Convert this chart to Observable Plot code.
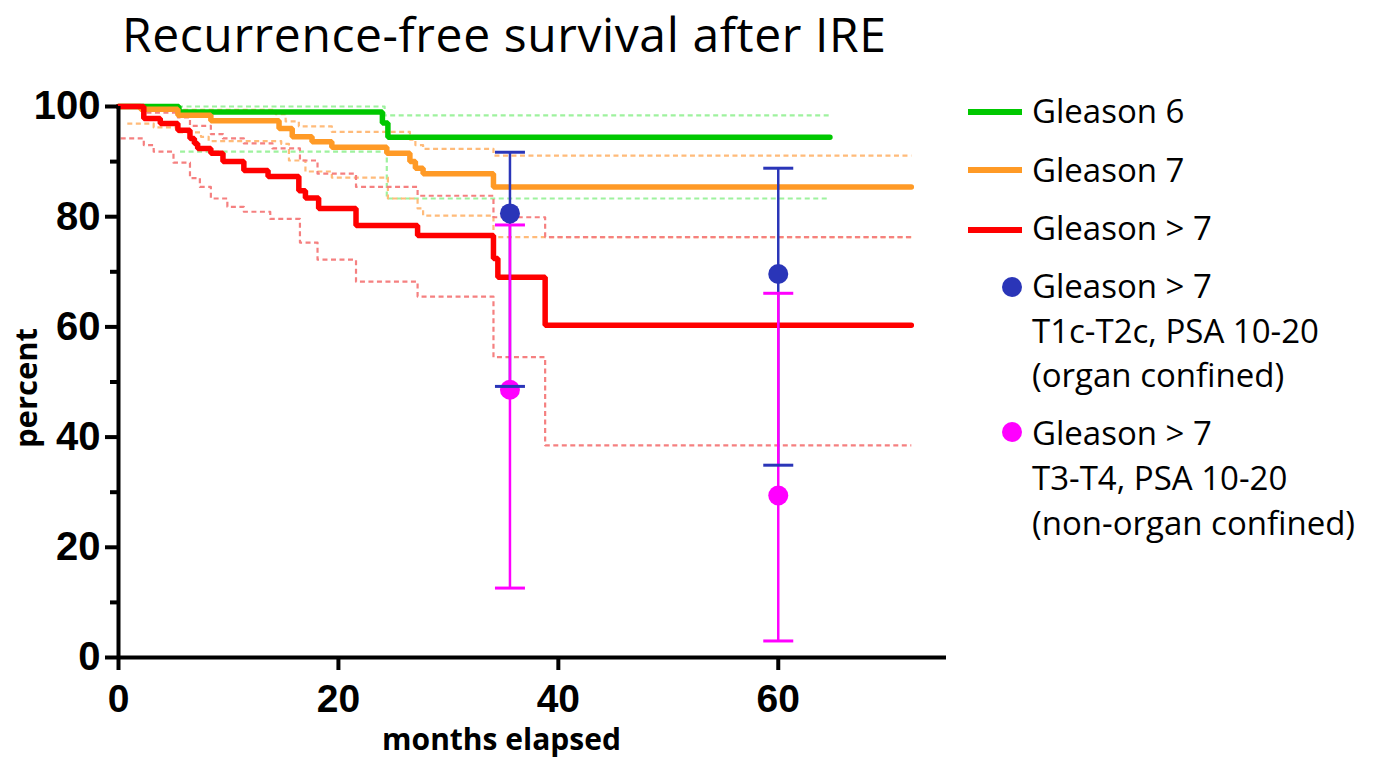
<!DOCTYPE html>
<html>
<head>
<meta charset="utf-8">
<script src="https://cdn.jsdelivr.net/npm/d3@7"></script>
<script src="https://cdn.jsdelivr.net/npm/@observablehq/plot@0.6"></script>
<style>
  html, body { margin: 0; padding: 0; background: #fff; }
  body { width: 1374px; height: 761px; position: relative; overflow: hidden; }
  #title { position: absolute; left: 122px; top: 1px; font-family: "Open Sans", sans-serif; font-size: 48px; line-height: 66px; letter-spacing: 0.6px; color: #000; white-space: nowrap; }
  #chart { position: absolute; left: 0; top: 80px; }
  .lg { position: absolute; font-family: "Open Sans", sans-serif; font-size: 33px; line-height: 33px; color: #000; white-space: nowrap; }
  .sw { position: absolute; height: 6px; width: 54px; left: 968px; }
  .dt { position: absolute; width: 20px; height: 20px; border-radius: 50%; left: 1002px; }
</style>
</head>
<body>
<div id="title">Recurrence-free survival after IRE</div>
<div id="chart"></div>
<div id="legend"></div>
<script>
// ---------- data (months, percent) ----------
const gleason6 = [[0,100],[5.5,99.0],[24.0,97.0],[24.5,94.4],[64.7,94.4]];
const gleason6Upper = [[0,100],[24.2,98.4],[64.7,98.4]];
const gleason6Lower = [[5.6,91.8],[24.4,83.3],[64.7,83.3]];

const gleason7 = [[0,100],[2.0,99.5],[5.4,98.4],[8.4,97.4],[14.6,96.0],[15.8,94.5],[17.6,93.6],[19.4,92.6],[24.4,91.5],[26.5,90.0],[27.0,88.8],[27.7,87.8],[34.1,85.4],[72.1,85.4]];
const gleason7Upper = [[0,100],[4.0,99.4],[14.3,98.6],[15.2,97.3],[16.4,96.4],[19.4,95.4],[26.5,94.0],[27.0,93.0],[27.7,92.3],[34.1,91.1],[72.1,91.1]];
const gleason7Lower = [[0.8,96.9],[3.2,96.2],[5.5,95.3],[7.5,94.5],[8.2,93.7],[14.8,93.2],[15.5,90.2],[17.0,88.2],[19.4,87.1],[24.5,83.3],[27.2,81.5],[27.7,80.2],[34.1,76.3],[72.1,76.3]];

const gleason8 = [[0,100],[2.3,97.8],[3.8,96.9],[5.4,95.7],[6.5,94.2],[6.9,93.3],[7.2,92.4],[8.4,91.5],[9.5,90.0],[11.4,88.4],[13.6,87.3],[16.4,84.7],[17.0,83.4],[18.2,81.5],[21.6,78.4],[27.2,76.6],[34.1,72.4],[34.5,69.0],[38.8,60.3],[72.1,60.3]];
const gleason8Upper = [[0,100],[2.3,98.9],[5.4,98.0],[6.5,96.5],[8.4,95.0],[9.5,94.2],[11.4,93.3],[14.0,92.4],[16.5,90.2],[18.1,87.8],[21.6,85.4],[27.2,83.8],[34.1,79.9],[38.8,76.3],[72.1,76.3]];
const gleason8Lower = [[0.2,94.2],[2.3,93.0],[3.2,91.8],[5.0,89.8],[6.5,87.0],[7.4,85.4],[8.4,83.3],[9.9,81.8],[11.4,80.9],[13.8,79.6],[16.5,75.3],[18.1,72.2],[21.6,68.2],[27.2,65.5],[34.1,54.5],[38.8,38.5],[72.1,38.5]];

const pointMonths = [35.6, 60];
const organConfined = [80.6, 69.6];
const organConfinedLow = [49.2, 34.9];
const organConfinedHigh = [91.7, 88.8];
const nonOrganConfined = [48.6, 29.4];
const nonOrganConfinedLow = [12.6, 3.0];
const nonOrganConfinedHigh = [78.5, 66.1];

const xMajorTicks = [0, 20, 40, 60];
const yMajorTicks = [0, 20, 40, 60, 80, 100];
const yMinorTicks = [10, 30, 50, 70, 90];

const legendLabels = [
  ["Gleason 6"],
  ["Gleason 7"],
  ["Gleason > 7"],
  ["Gleason > 7", "T1c-T2c, PSA 10-20", "(organ confined)"],
  ["Gleason > 7", "T3-T4, PSA 10-20", "(non-organ confined)"]
];

// ---------- colours ----------
const C = {
  g6: "#00c800", g6ci: "#9ef29e",
  g7: "#ff9a26", g7ci: "#ffbb7a",
  g8: "#ff0000", g8ci: "#f58080",
  blue: "#2a35b8", magenta: "#ff00ff"
};

const pts = (arr) => arr.map(([m, p]) => ({m, p}));
const bars = (vals, lo, hi) => pointMonths.map((m, i) => ({m, v: vals[i], lo: lo[i], hi: hi[i]}));
const blue = bars(organConfined, organConfinedLow, organConfinedHigh);
const mag = bars(nonOrganConfined, nonOrganConfinedLow, nonOrganConfinedHigh);

const capSymbol = {
  draw(context, size) {
    const w = Math.sqrt(size / Math.PI);
    context.moveTo(-w, 0);
    context.lineTo(w, 0);
  }
};

const ciLine = (data, color) => Plot.line(pts(data), {x: "m", y: "p", curve: "step-after", stroke: color, strokeWidth: 2.2, strokeDasharray: "5,3.5", strokeLinecap: "butt"});
const mainLine = (data, color) => Plot.line(pts(data), {x: "m", y: "p", curve: "step-after", stroke: color, strokeWidth: 5.5, strokeLinecap: "round", strokeLinejoin: "miter"});

const chart = Plot.plot({
  width: 960,
  height: 681,
  marginLeft: 118,
  marginRight: 14,
  marginTop: 26,
  marginBottom: 104,
  x: {domain: [0, 75.3]},
  y: {domain: [0, 100]},
  style: {fontFamily: "'Liberation Sans', Arial, sans-serif", color: "#000", background: "transparent", overflow: "visible"},
  marks: [
    ciLine(gleason6Upper, C.g6ci),
    ciLine(gleason6Lower, C.g6ci),
    ciLine(gleason7Upper, C.g7ci),
    ciLine(gleason7Lower, C.g7ci),
    ciLine(gleason8Upper, C.g8ci),
    ciLine(gleason8Lower, C.g8ci),
    mainLine(gleason6, C.g6),
    mainLine(gleason7, C.g7),
    mainLine(gleason8, C.g8),
    Plot.ruleX(blue, {x: "m", y1: "lo", y2: "hi", stroke: C.blue, strokeWidth: 2.5}),
    Plot.ruleX(mag, {x: "m", y1: "lo", y2: "hi", stroke: C.magenta, strokeWidth: 2.5}),
    Plot.dot(mag, {x: "m", y: "lo", symbol: capSymbol, r: 15, fill: "none", stroke: C.magenta, strokeWidth: 3}),
    Plot.dot(mag, {x: "m", y: "hi", symbol: capSymbol, r: 15, fill: "none", stroke: C.magenta, strokeWidth: 3}),
    Plot.dot(mag, {x: "m", y: "v", r: 10, fill: C.magenta, stroke: "none"}),
    Plot.dot(blue, {x: "m", y: "lo", symbol: capSymbol, r: 15, fill: "none", stroke: C.blue, strokeWidth: 3}),
    Plot.dot(blue, {x: "m", y: "hi", symbol: capSymbol, r: 15, fill: "none", stroke: C.blue, strokeWidth: 3}),
    Plot.dot(blue, {x: "m", y: "v", r: 10, fill: C.blue, stroke: "none"}),
    Plot.ruleX([0], {strokeWidth: 4, stroke: "#000"}),
    Plot.ruleY([0], {strokeWidth: 4, stroke: "#000"}),
    Plot.axisY({ticks: yMajorTicks, tickSize: 13, tickPadding: 5, strokeWidth: 4, fontSize: 40, fontWeight: "bold", label: null}),
    Plot.axisY({ticks: yMinorTicks, tickSize: 8, strokeWidth: 4, tickFormat: () => "", label: null}),
    Plot.axisX({ticks: xMajorTicks, tickSize: 13, tickPadding: 14, strokeWidth: 4, fontSize: 39, fontWeight: "bold", label: null}),
    Plot.text(["percent"], {frameAnchor: "left", dx: -91, dy: 6, rotate: -90, textAnchor: "middle", fontSize: 31, fontWeight: "bold", fontFamily: "'Open Sans', sans-serif", lineAnchor: "middle"}),
    Plot.text(["months elapsed"], {frameAnchor: "bottom", dx: -31, dy: 83, textAnchor: "middle", fontSize: 30, fontWeight: "bold", fontFamily: "'Open Sans', sans-serif", lineAnchor: "middle"})
  ]
});
document.getElementById("chart").appendChild(chart);

// ---------- legend (HTML, right of the plot) ----------
const legend = document.getElementById("legend");
const swatchColors = [C.g6, C.g7, C.g8];
const swatchY = [112, 170, 230];
const dotColors = [C.blue, C.magenta];
const dotY = [287, 432];
const baselines = [[123], [182], [240], [298, 343, 387], [445, 490, 535]];
legendLabels.forEach((lines, i) => {
  if (i < 3) {
    const s = document.createElement("div");
    s.className = "sw";
    s.style.background = swatchColors[i];
    s.style.top = (swatchY[i] - 3) + "px";
    legend.appendChild(s);
  } else {
    const d = document.createElement("div");
    d.className = "dt";
    d.style.background = dotColors[i - 3];
    d.style.top = (dotY[i - 3] - 10) + "px";
    legend.appendChild(d);
  }
  lines.forEach((t, j) => {
    const el = document.createElement("div");
    el.className = "lg";
    el.textContent = t;
    el.style.left = "1032px";
    el.style.top = (baselines[i][j] - 29) + "px";
    legend.appendChild(el);
  });
});
</script>
</body>
</html>
